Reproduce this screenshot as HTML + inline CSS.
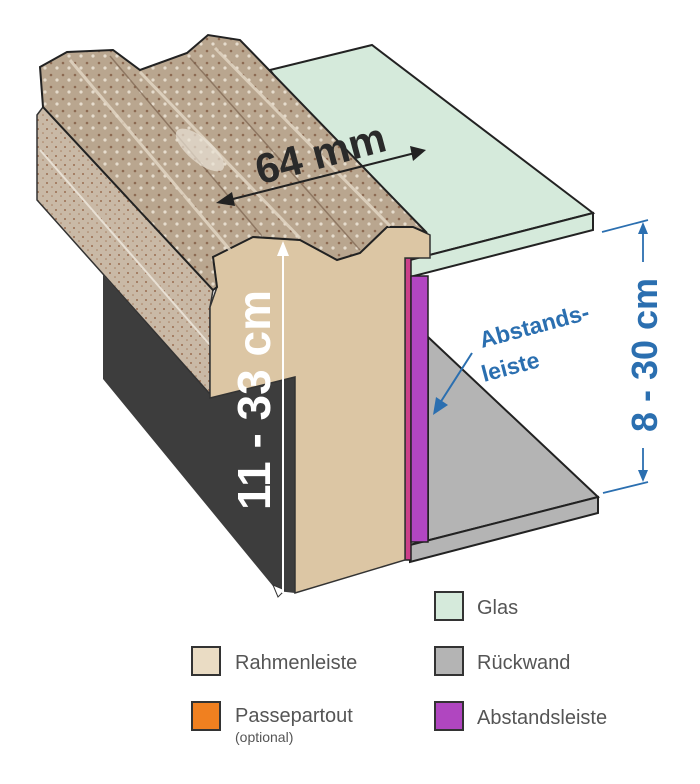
<!DOCTYPE html>
<html><head><meta charset="utf-8"><style>
html,body{margin:0;padding:0;background:#fff;}
svg{display:block;}
text{font-family:"Liberation Sans",Arial,sans-serif;}
</style></head><body>
<svg width="700" height="784" viewBox="0 0 700 784" xmlns="http://www.w3.org/2000/svg">
<defs>
<pattern id="sp" width="9" height="9" patternUnits="userSpaceOnUse">
<rect width="9" height="9" fill="#c9b9a6"/>
<circle cx="2" cy="3" r="1" fill="#9a6e52"/><circle cx="7" cy="7" r="0.8" fill="#a77e60"/>
</pattern>
<pattern id="tp" width="12" height="12" patternUnits="userSpaceOnUse">
<rect width="12" height="12" fill="#b9a68f"/>
<circle cx="3" cy="3" r="1.3" fill="#8c6a52"/><circle cx="9" cy="8" r="1.6" fill="#e6dccd"/>
</pattern>
</defs>

<!-- Glass -->
<polygon points="270,70 372,45 593,213 410,260" fill="#d5eadb" stroke="#222" stroke-width="2"/>
<polygon points="410,260 593,213 593,230 410,277" fill="#d5eadb" stroke="#222" stroke-width="2"/>

<!-- Back panel -->
<polygon points="428,337 598,497 410,545 428,540" fill="#b4b4b4" stroke="#222" stroke-width="2"/>
<polygon points="410,545 598,497 598,513 410,562" fill="#b4b4b4" stroke="#222" stroke-width="2"/>

<!-- spacer -->
<rect x="405" y="258" width="6" height="302" fill="#cc3f8a" stroke="#222" stroke-width="1.5"/>
<rect x="411" y="276" width="17" height="266" fill="#b246c2" stroke="#222" stroke-width="1.5"/>

<!-- dark inner side -->
<polygon points="103,275 210,394 295,377 295,593 277,591 103,379" fill="#3d3d3d"/>
<polygon points="273,585 285,590 278,597" fill="#fff" stroke="#333" stroke-width="1"/>

<!-- side textured panel -->
<polygon points="37,115 43,107 213,290 210,307 210,394 37,200" fill="url(#sp)" stroke="#333" stroke-width="1.5"/>
<line x1="40" y1="150" x2="210" y2="345" stroke="#e8e0d4" stroke-width="2"/>

<!-- front wood face -->
<polygon points="213,257 227,250 253,237 300,240 337,260 360,253 387,227 413,227 430,235 430,258 405,258 405,560 295,593 295,377 210,398 210,307 217,287" fill="#dcc6a4" stroke="#333" stroke-width="1.5"/>

<!-- top surface -->
<polygon points="40,67 67,52 113,50 140,70 187,53 208,35 240,40 427,233 413,227 387,227 360,253 337,260 300,240 253,237 227,250 213,257 217,287 213,290 43,107" fill="url(#tp)" stroke="#222" stroke-width="2"/>
<g stroke="#e4d8c6" stroke-width="3" opacity="0.8">
<line x1="140" y1="72" x2="300" y2="238"/>
<line x1="215" y1="48" x2="390" y2="226"/>
<line x1="70" y1="60" x2="230" y2="250"/>
</g>
<g stroke="#7d6450" stroke-width="1.5" opacity="0.7">
<line x1="190" y1="58" x2="360" y2="250"/>
<line x1="110" y1="56" x2="262" y2="236"/>
</g>
<ellipse cx="200" cy="150" rx="30" ry="12" transform="rotate(40 200 150)" fill="#e9e2d6" opacity="0.7"/>

<!-- 64 mm dimension -->
<line x1="225" y1="201" x2="415" y2="153" stroke="#222" stroke-width="2"/>
<polygon points="216,203 232,192 235,206" fill="#222"/>
<polygon points="426,150 410,146 413,161" fill="#222"/>
<text x="320" y="168" font-size="42" font-weight="bold" fill="#2a2a2a" text-anchor="middle" transform="rotate(-15 320 152)">64 mm</text>

<!-- 11-33 cm white -->
<line x1="283" y1="593" x2="283" y2="250" stroke="#fff" stroke-width="2"/>
<polygon points="283,241 277,256 289,256" fill="#fff"/>
<text x="0" y="0" font-size="46" font-weight="bold" fill="#fff" text-anchor="middle" transform="translate(270,400) rotate(-90)">11 - 33 cm</text>

<!-- 8-30 cm blue -->
<g stroke="#2b6fb0" stroke-width="1.8" fill="#2b6fb0">
<line x1="602" y1="232" x2="648" y2="220"/>
<line x1="603" y1="493" x2="648" y2="482"/>
<line x1="643" y1="230" x2="643" y2="262"/>
<line x1="643" y1="448" x2="643" y2="478"/>
<polygon points="643,222 638,234 648,234" stroke="none"/>
<polygon points="643,482 638,470 648,470" stroke="none"/>
</g>
<text x="0" y="0" font-size="36" font-weight="bold" fill="#2b6fb0" text-anchor="middle" transform="translate(657,355) rotate(-90)">8 - 30 cm</text>

<!-- Abstandsleiste label -->
<text x="482" y="348" font-size="23" font-weight="bold" fill="#2b6fb0" transform="rotate(-15 482 348)">Abstands-</text>
<text x="484" y="382" font-size="23" font-weight="bold" fill="#2b6fb0" transform="rotate(-15 484 382)">leiste</text>
<line x1="472" y1="353" x2="440" y2="403" stroke="#2b6fb0" stroke-width="2"/>
<polygon points="433,415 436,397 448,405" fill="#2b6fb0"/>

<!-- Legend -->
<g stroke="#333" stroke-width="2">
<rect x="435" y="592" width="28" height="28" fill="#d5eadb"/>
<rect x="435" y="647" width="28" height="28" fill="#b4b4b4"/>
<rect x="435" y="702" width="28" height="28" fill="#b046c0"/>
<rect x="192" y="647" width="28" height="28" fill="#eadcc4"/>
<rect x="192" y="702" width="28" height="28" fill="#f08020"/>
</g>
<g font-size="20" fill="#555">
<text x="477" y="614">Glas</text>
<text x="477" y="669">Rückwand</text>
<text x="477" y="724">Abstandsleiste</text>
<text x="235" y="669">Rahmenleiste</text>
<text x="235" y="722">Passepartout</text>
<text x="235" y="742" font-size="14">(optional)</text>
</g>
</svg>
</body></html>
